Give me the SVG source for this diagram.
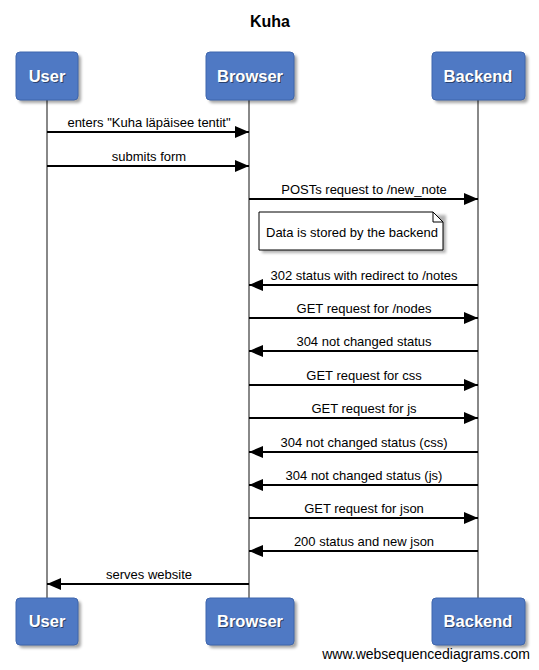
<svg xmlns="http://www.w3.org/2000/svg" width="539" height="670" viewBox="0 0 539 670">
<defs>
<style>
.box{fill:#4f79c4;stroke:#3f66ad;stroke-width:1}
.shadow{fill:#000;opacity:0.35}
.bt{font-family:"Liberation Sans",Arial,sans-serif;font-size:16.5px;font-weight:bold;fill:#fff;text-anchor:middle}
.bts{font-family:"Liberation Sans",Arial,sans-serif;font-size:16.5px;font-weight:bold;fill:#1a2a4a;text-anchor:middle;opacity:0.7}
.life{stroke:#888;stroke-width:2}
.msg{stroke:#000;stroke-width:2;fill:none}
.lbl{font-family:"Liberation Sans",Arial,sans-serif;font-size:13px;fill:#000;text-anchor:middle}
</style>
<marker id="ah" markerWidth="14" markerHeight="12" refX="14" refY="6" orient="auto" markerUnits="userSpaceOnUse">
<path d="M0,0 L14,6 L0,12 Z" fill="#000"/>
</marker>
<filter id="blur" x="-20%" y="-20%" width="140%" height="140%"><feGaussianBlur stdDeviation="1.5"/></filter>
</defs>
<rect width="539" height="670" fill="#fff"/>
<text x="270" y="27" font-family="Liberation Sans,Arial,sans-serif" font-size="16" font-weight="bold" text-anchor="middle">Kuha</text>
<g id="lifelines">
<line class="life" x1="47" y1="100" x2="47" y2="598"/>
<line class="life" x1="249" y1="100" x2="249" y2="598"/>
<line class="life" x1="478" y1="100" x2="478" y2="598"/>
</g>
<g id="User-top">
<rect class="shadow" x="19" y="55" width="62" height="48" rx="4" filter="url(#blur)"/>
<rect class="box" x="16" y="52" width="62" height="48" rx="4"/>
<text class="bts" x="48" y="83">User</text>
<text class="bt" x="47" y="82">User</text>
</g>
<g id="Browser-top">
<rect class="shadow" x="209" y="55" width="88" height="48" rx="4" filter="url(#blur)"/>
<rect class="box" x="206" y="52" width="88" height="48" rx="4"/>
<text class="bts" x="251" y="83">Browser</text>
<text class="bt" x="250" y="82">Browser</text>
</g>
<g id="Backend-top">
<rect class="shadow" x="435" y="55" width="93" height="48" rx="4" filter="url(#blur)"/>
<rect class="box" x="432" y="52" width="93" height="48" rx="4"/>
<text class="bts" x="479" y="83">Backend</text>
<text class="bt" x="478" y="82">Backend</text>
</g>
<g id="User-bottom">
<rect class="shadow" x="19" y="601" width="62" height="47" rx="4" filter="url(#blur)"/>
<rect class="box" x="16" y="598" width="62" height="47" rx="4"/>
<text class="bts" x="48" y="628">User</text>
<text class="bt" x="47" y="627">User</text>
</g>
<g id="Browser-bottom">
<rect class="shadow" x="209" y="601" width="88" height="47" rx="4" filter="url(#blur)"/>
<rect class="box" x="206" y="598" width="88" height="47" rx="4"/>
<text class="bts" x="251" y="628">Browser</text>
<text class="bt" x="250" y="627">Browser</text>
</g>
<g id="Backend-bottom">
<rect class="shadow" x="435" y="601" width="93" height="47" rx="4" filter="url(#blur)"/>
<rect class="box" x="432" y="598" width="93" height="47" rx="4"/>
<text class="bts" x="479" y="628">Backend</text>
<text class="bt" x="478" y="627">Backend</text>
</g>
<g id="note">
<path d="M262,215 L446,215 L446,253 L262,253 Z" fill="#000" opacity="0.3" filter="url(#blur)"/>
<path d="M259,212 L433,212 L443,222 L443,250 L259,250 Z" fill="#fff" stroke="#000" stroke-width="1"/>
<path d="M433,212 L433,222 L443,222" fill="none" stroke="#000" stroke-width="1"/>
<text class="lbl" x="352" y="237">Data is stored by the backend</text>
</g>
<g id="connectors">
<line class="msg" x1="47" y1="132" x2="249" y2="132" marker-end="url(#ah)"/>
<text class="lbl" x="149" y="127">enters "Kuha läpäisee tentit"</text>
<line class="msg" x1="47" y1="166" x2="249" y2="166" marker-end="url(#ah)"/>
<text class="lbl" x="149" y="161">submits form</text>
<line class="msg" x1="249" y1="199" x2="478" y2="199" marker-end="url(#ah)"/>
<text class="lbl" x="364" y="194">POSTs request to /new_note</text>
<line class="msg" x1="478" y1="285" x2="249" y2="285" marker-end="url(#ah)"/>
<text class="lbl" x="364" y="280">302 status with redirect to /notes</text>
<line class="msg" x1="249" y1="318" x2="478" y2="318" marker-end="url(#ah)"/>
<text class="lbl" x="364" y="313">GET request for /nodes</text>
<line class="msg" x1="478" y1="351" x2="249" y2="351" marker-end="url(#ah)"/>
<text class="lbl" x="364" y="346">304 not changed status</text>
<line class="msg" x1="249" y1="385" x2="478" y2="385" marker-end="url(#ah)"/>
<text class="lbl" x="364" y="380">GET request for css</text>
<line class="msg" x1="249" y1="418" x2="478" y2="418" marker-end="url(#ah)"/>
<text class="lbl" x="364" y="413">GET request for js</text>
<line class="msg" x1="478" y1="452" x2="249" y2="452" marker-end="url(#ah)"/>
<text class="lbl" x="364" y="447">304 not changed status (css)</text>
<line class="msg" x1="478" y1="485" x2="249" y2="485" marker-end="url(#ah)"/>
<text class="lbl" x="364" y="480">304 not changed status (js)</text>
<line class="msg" x1="249" y1="518" x2="478" y2="518" marker-end="url(#ah)"/>
<text class="lbl" x="364" y="513">GET request for json</text>
<line class="msg" x1="478" y1="551" x2="249" y2="551" marker-end="url(#ah)"/>
<text class="lbl" x="364" y="546">200 status and new json</text>
<line class="msg" x1="249" y1="584" x2="47" y2="584" marker-end="url(#ah)"/>
<text class="lbl" x="149" y="579">serves website</text>
</g>
<text x="530" y="659" font-family="Liberation Sans,Arial,sans-serif" font-size="14" text-anchor="end">www.websequencediagrams.com</text>
</svg>
